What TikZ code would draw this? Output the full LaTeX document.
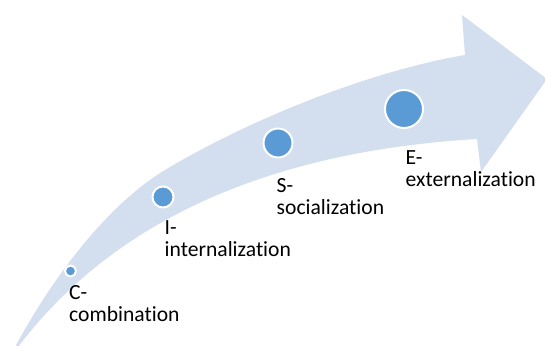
\documentclass[tikz,border=0pt]{standalone}
\usepackage{fontspec}
\setmainfont[Ligatures = NoCommon]{Carlito}
\usepackage{xcolor}
\usepackage{tikz}
\newcommand{\modeDot}[4]{
	\node[circle, draw = white, line width = 2pt, fill = dot, inner sep = 0pt, minimum size = #4pt] (#1) at (#2, #3) {};
}
\newcommand{\modeLabel}[4]{
	\node[anchor = base west, align = left, inner sep = 0pt, font = \fontsize{21.6}{22}\selectfont] (#1) at (#2, #3) {#4};
}
\definecolor{band}{HTML}{D3DEEF}
\definecolor{dot}{HTML}{5B9BD5}

\begin{document}
\begin{tikzpicture}[x = 1pt, y = -1pt]%
		\useasboundingbox (0, 0) rectangle (545, 345);
		\clip (0, 0) rectangle (545, 345);

		% curved arrow
		\fill[band] (15, 347) .. controls (60, 264) and (115, 200) .. (165, 170)
			.. controls (245, 122) and (365, 72) .. (465, 55)
			-- (462, 15) -- (547, 79) -- (481, 172) -- (477, 139)
			.. controls (257, 152) and (108, 228) .. (18, 347) -- cycle;

		% dots, growing along the arrow
		\modeDot{comb}{70.5}{271}{11}
		\modeDot{inter}{163}{197}{21}
		\modeDot{social}{278}{143}{29}
		\modeDot{exter}{404}{109}{38}

		% labels (base = last line)
		\modeLabel{combText}{69}{321}{C-\\combination}
		\modeLabel{interText}{164.5}{256}{I-\\internalization}
		\modeLabel{socialText}{276.5}{214}{S-\\socialization}
		\modeLabel{exterText}{405.5}{186}{E-\\externalization}
	\end{tikzpicture}
\end{document}
